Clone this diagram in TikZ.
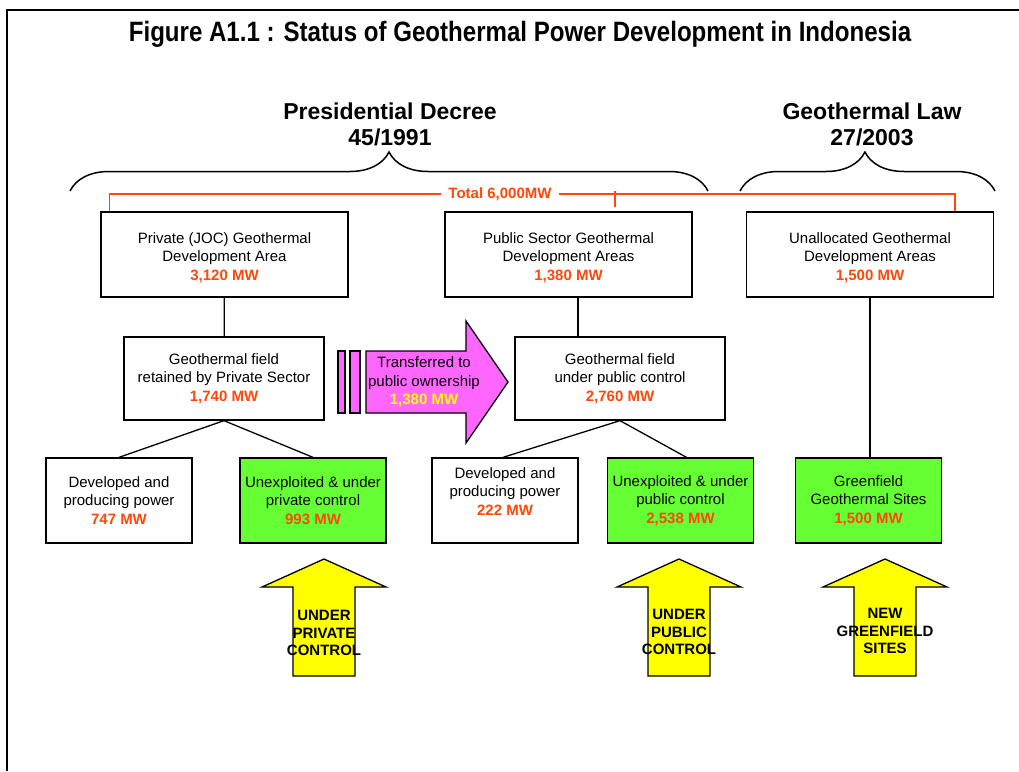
\documentclass[tikz,border=0pt]{standalone}
\usepackage{fontspec}
\setmainfont{Liberation Sans}
\newfontfamily\titlefont[FakeStretch=0.86]{Liberation Sans}
\usetikzlibrary{decorations.pathreplacing}

\definecolor{mwred}{RGB}{255,72,10}
\definecolor{fieldgreen}{RGB}{102,255,51}
\definecolor{transpink}{RGB}{255,102,255}
\definecolor{ctrlyellow}{RGB}{255,255,0}

\newcommand{\mw}[1]{\textcolor{mwred}{\bfseries #1}}

\begin{document}
\begin{tikzpicture}[x=1pt, y=-1pt,
  every node/.style = {font=\fontsize{15}{18.5}\selectfont, align=center},
  area/.style = {draw, line width=1.3pt, minimum width=247pt, minimum height=85pt, inner sep=0pt},
  field/.style = {draw, line width=1.3pt, minimum width=200pt, minimum height=83pt, inner sep=0pt},
  part/.style = {draw, line width=1.3pt, minimum width=146pt, minimum height=85pt, inner sep=0pt},
  green/.style = {part, fill=fieldgreen},
  link/.style = {line width=1.3pt},
  total/.style = {draw=mwred, line width=1.6pt},
  law/.style = {font=\fontsize{23}{26}\selectfont\bfseries},
  ctrl/.style = {font=\fontsize{15}{17.5}\selectfont\bfseries},
  bracket/.style = {line width=1.5pt, decorate, decoration={brace, amplitude=39pt}}]
\useasboundingbox (0,0) rectangle (1019,771);

% frame
\draw[line width=2pt] (7,771) -- (7,10) -- (1019,10);
\node[font=\titlefont\fontsize{28}{30}\selectfont\bfseries] (title) at (520,34) {Figure A1.1 : Status of Geothermal Power Development in Indonesia};

% legal basis
\node[law] (decree) at (390,124) {Presidential Decree\\45/1991};
\node[law] (lawnode) at (872,124) {Geothermal Law\\27/2003};
\draw[bracket, decoration={aspect=0.5}] (70,191) -- (708,191);
\draw[bracket, decoration={aspect=0.49}] (740,191) -- (995,191);

% development areas
\node[area] (jocarea) at (224.5,254.5) {\rule{0pt}{17pt}Private (JOC) Geothermal\\Development Area\\\mw{3,120 MW}};
\node[area] (pubarea) at (568.5,254.5) {\rule{0pt}{17pt}Public Sector Geothermal\\Development Areas\\\mw{1,380 MW}};
\node[area] (freearea) at (870,254.5) {\rule{0pt}{17pt}Unallocated Geothermal\\Development Areas\\\mw{1,500 MW}};

% total
\node[font=\fontsize{15}{18}\selectfont\bfseries, text=mwred, inner xsep=7pt] (tot) at (500,194) {Total 6,000MW};
\draw[total] ([xshift=9pt]jocarea.north west) |- (tot.west);
\draw[total] (tot.east) -| ([xshift=-39pt]freearea.north east);
\draw[total] ([xshift=46.5pt,yshift=4pt]pubarea.north) -- ([xshift=46.5pt,yshift=20pt]pubarea.north);

% fields
\node[field] (privfield) at (224,378.5) {Geothermal field\\retained by Private Sector\\\mw{1,740 MW}};
\node[field, minimum width=210pt] (pubfield) at (620,378.5) {Geothermal field\\under public control\\\mw{2,760 MW}};

% transfer arrow
\draw[line width=1.3pt, fill=transpink] (338,351) rectangle (345,413);
\draw[line width=1.3pt, fill=transpink] (350,351) rectangle (360,413);
\draw[line width=1.3pt, fill=transpink] (366,351) -- (466,351) -- (466,321) -- (508,382)
  -- (466,443) -- (466,413) -- (366,413) -- cycle;
\node (transfer) at (424,382) {Transferred to\\public ownership\\\textcolor{ctrlyellow}{\bfseries 1,380 MW}};

% field parts
\node[part] (privdev) at (119,500.5) {Developed and\\producing power\\\mw{747 MW}};
\node[green] (privopen) at (313,500.5) {Unexploited \& under\\private control\\\mw{993 MW}};
\node[part] (pubdev) at (505,500.5) {Developed and\\producing power\\\mw{222 MW}\\\mbox{}};
\node[green] (pubopen) at (680.5,500.5) {Unexploited \& under\\public control\\\mw{2,538 MW}};
\node[green] (greensites) at (868.5,500.5) {Greenfield\\Geothermal Sites\\\mw{1,500 MW}};

% tree links
\draw[link] (jocarea) -- (privfield);
\draw[link] ([xshift=9.5pt]pubarea.south) -- ([xshift=9.5pt]pubarea.south |- pubfield.north);
\draw[link] (freearea.south) -- (freearea.south |- greensites.north);
\draw[link] (privfield.south) -- (privdev.north);
\draw[link] (privfield.south) -- (privopen.north);
\draw[link] (pubfield.south) -- ([xshift=-2pt]pubdev.north);
\draw[link] (pubfield.south) -- ([xshift=6pt]pubopen.north);

% control arrows
\foreach \cx in {324,679,885}
  \draw[line width=1.3pt, fill=ctrlyellow] (\cx-31,676) -- (\cx-31,587) -- (\cx-62,587) -- (\cx,559)
    -- (\cx+62,587) -- (\cx+31,587) -- (\cx+31,676) -- cycle;
\node[ctrl] (privctrl) at (324,633) {UNDER\\PRIVATE\\CONTROL};
\node[ctrl] (pubctrl) at (679,632) {UNDER\\PUBLIC\\CONTROL};
\node[ctrl] (newsites) at (885,631) {NEW\\GREENFIELD\\SITES};
\end{tikzpicture}
\end{document}
